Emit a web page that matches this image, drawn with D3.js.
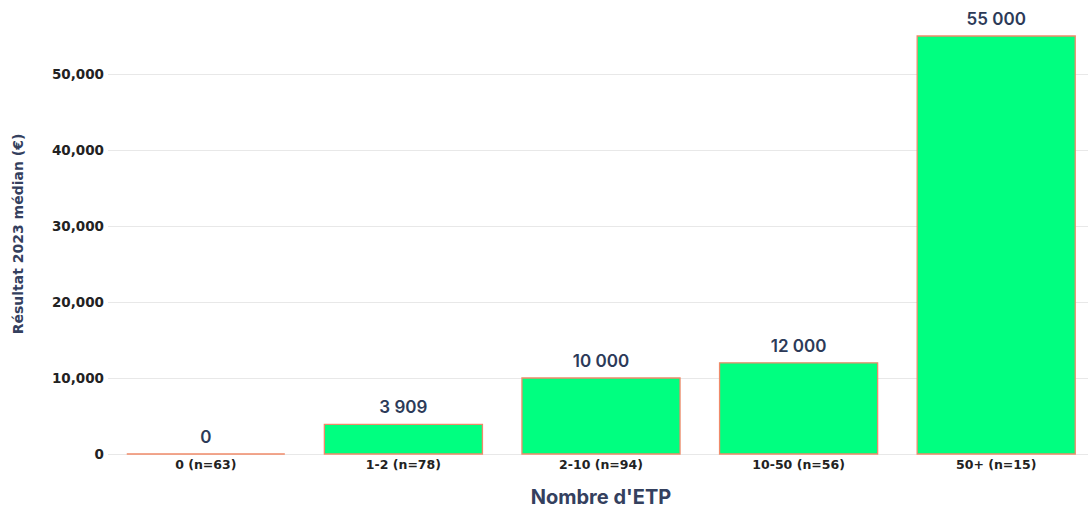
<!DOCTYPE html>
<html>
<head>
<meta charset="utf-8">
<script src="https://cdn.jsdelivr.net/npm/d3@7"></script>
<style>
	body { margin: 0; background: #fff; font-family: Inter, "Noto Sans", sans-serif; }
	.y.axis .domain, .x.axis .domain { display: none; }
	.y.axis line { stroke: #e8e8e8; }
	.x.axis line { display: none; }
</style>
</head>
<body>
<div id="chart-area"></div>
<script>
var categories = ["0 (n=63)", "1-2 (n=78)", "2-10 (n=94)", "10-50 (n=56)", "50+ (n=15)"];
var values = [0, 3909, 10000, 12000, 55000];
var valueLabels = ["0", "3 909", "10 000", "12 000", "55 000"];
var yTicks = [0, 10000, 20000, 30000, 40000, 50000];

var data = categories.map(function(c, i){
	return { cat: c, value: values[i], label: valueLabels[i] };
});

var width = 1088, height = 511;

var svg = d3.select("#chart-area")
	.append("svg")
		.attr("width", width)
		.attr("height", height);

//scales
var x = d3.scaleBand()
	.domain(categories)
	.range([107, 1095])
	.paddingInner(0.2)
	.paddingOuter(0.1);

var y = d3.scaleLinear()
	.domain([0, 50000])
	.range([454, 74]);

//y axis with gridlines
var yAxisCall = d3.axisLeft(y)
	.tickValues(yTicks)
	.tickSize(-(1088 - 108))
	.tickPadding(4)
	.tickFormat(d3.format(","));

svg.append("g")
	.attr("class", "y axis")
	.attr("transform", "translate(108, 0)")
	.call(yAxisCall)
	.selectAll("text")
		.attr("fill", "#222")
		.attr("font-family", "'DejaVu Sans', sans-serif")
		.attr("font-size", "13.5px")
		.attr("font-weight", 700);

//x axis
var xAxisCall = d3.axisBottom(x).tickSize(0).tickPadding(6);

svg.append("g")
	.attr("class", "x axis")
	.attr("transform", "translate(0, 454)")
	.call(xAxisCall)
	.selectAll("text")
		.attr("fill", "#222")
		.attr("font-family", "'DejaVu Sans', sans-serif")
		.attr("font-size", "12.5px")
		.attr("font-weight", 700);

//bars (drawn as paths so a zero bar still shows its edge)
svg.selectAll("path.bar")
	.data(data)
	.enter()
	.append("path")
		.attr("class", "bar")
		.attr("d", function(d){
			var x0 = x(d.cat), x1 = x0 + x.bandwidth();
			return "M" + x0 + "," + y(0) + "V" + y(d.value) + "H" + x1 + "V" + y(0) + "Z";
		})
		.attr("fill", "#00ff80")
		.attr("stroke", "#ef8a6a")
		.attr("stroke-width", 1.3);

//value labels
svg.selectAll("text.val")
	.data(data)
	.enter()
	.append("text")
		.attr("class", "val")
		.attr("x", function(d){ return x(d.cat) + x.bandwidth()/2; })
		.attr("y", function(d){ return y(d.value) - 11; })
		.attr("text-anchor", "middle")
		.attr("font-size", "17px")
		.attr("font-weight", 600)
		.attr("fill", "#2c3a58")
		.text(function(d){ return d.label; });

//axis titles
svg.append("text")
	.attr("x", 601)
	.attr("y", 504)
	.attr("text-anchor", "middle")
	.attr("font-size", "20px")
	.attr("font-weight", 700)
	.attr("fill", "#34405e")
	.text("Nombre d'ETP");

svg.append("text")
	.attr("transform", "translate(23, 234) rotate(-90)")
	.attr("text-anchor", "middle")
	.attr("font-family", "'DejaVu Sans', sans-serif")
	.attr("font-size", "14px")
	.attr("font-weight", 700)
	.attr("fill", "#34405e")
	.text("Résultat 2023 médian (€)");
</script>
</body>
</html>
